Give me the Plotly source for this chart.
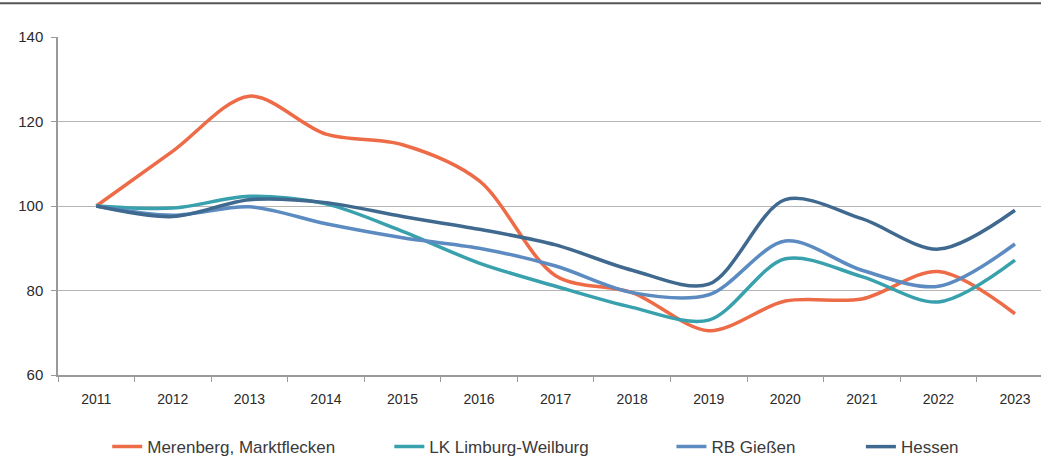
import plotly.graph_objects as go

# Data (index, 2011 = 100)
years = ['2011', '2012', '2013', '2014', '2015', '2016', '2017',
         '2018', '2019', '2020', '2021', '2022', '2023']
merenberg = [100, 113, 126, 117, 114.5, 106, 83.5, 79.5, 70.5, 77.5, 78, 84.5, 74.5]
limburg = [100, 99.5, 102.3, 100.5, 94, 86.5, 81, 76, 73, 87.5, 83.3, 77.3, 87.2]
giessen = [100, 97.8, 99.8, 95.8, 92.5, 90, 85.8, 79.5, 79, 91.7, 84.8, 81, 91]
hessen = [100, 97.5, 101.5, 100.8, 97.5, 94.5, 90.8, 84.8, 81.5, 101.5, 97, 89.8, 99]

series_names = ['Merenberg, Marktflecken', 'LK Limburg-Weilburg', 'RB Gießen', 'Hessen']
y_ticks = [60, 80, 100, 120, 140]

COLORS = ['#EE6B47', '#39A1AD', '#5B8BC0', '#40698F']
# legend anchors in container fractions (one legend per series)
LEGEND_X = [0.103, 0.374, 0.645, 0.827]

FONT = 'Liberation Sans, Arial, sans-serif'

fig = go.Figure()

for i, (name, vals) in enumerate(zip(series_names, [merenberg, limburg, giessen, hessen])):
    fig.add_trace(
        go.Scatter(
            x=years,
            y=vals,
            mode='lines',
            name=name,
            line=dict(color=COLORS[i], width=3.5, shape='spline', smoothing=0.9),
            legend='legend' if i == 0 else f'legend{i + 1}',
        )
    )

legend_common = dict(
    orientation='h',
    xref='container',
    yref='container',
    xanchor='left',
    yanchor='middle',
    y=0.026,
    bgcolor='rgba(0,0,0,0)',
    font=dict(family=FONT, size=17, color='#3a3a3a'),
    itemwidth=30,
)

fig.update_layout(
    width=1041,
    height=459,
    paper_bgcolor='white',
    plot_bgcolor='white',
    margin=dict(l=58, r=0, t=37, b=84, autoexpand=False),
    font=dict(family=FONT, size=14, color='#333333'),
    showlegend=True,
    legend=dict(x=LEGEND_X[0], **legend_common),
    legend2=dict(x=LEGEND_X[1], **legend_common),
    legend3=dict(x=LEGEND_X[2], **legend_common),
    legend4=dict(x=LEGEND_X[3], **legend_common),
    shapes=[
        dict(type='line', xref='paper', yref='paper', x0=-0.06, x1=1.0,
             y0=1.1, y1=1.1, line=dict(color='#555555', width=2))
    ],
)

fig.update_xaxes(
    type='category',
    range=[-0.5, 12.34],
    showgrid=False,
    showline=True,
    linecolor='#9a9a9a',
    linewidth=1.5,
    ticks='outside',
    tickson='boundaries',
    ticklen=5,
    tickcolor='#9a9a9a',
    ticklabelstandoff=10,
    tickfont=dict(family=FONT, size=14, color='#2a2a2a'),
)

fig.update_yaxes(
    range=[60, 140],
    tickvals=y_ticks,
    showgrid=True,
    gridcolor='#b5b5b5',
    gridwidth=1,
    showline=True,
    linecolor='#9a9a9a',
    linewidth=1.5,
    ticks='outside',
    ticklen=5,
    tickcolor='#9a9a9a',
    ticklabelstandoff=5,
    zeroline=False,
    tickfont=dict(family=FONT, size=15, color='#2a2a2a'),
)

# drop the default page margin so the figure sits at the window's origin
fig.write_html('out.html', config={'displayModeBar': False},
               post_script="document.body.style.margin='0';")
